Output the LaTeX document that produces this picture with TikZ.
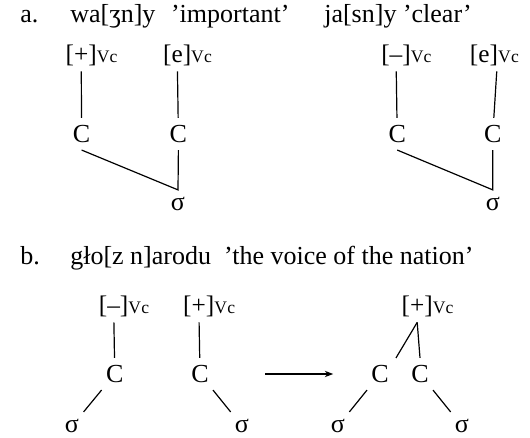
\documentclass[tikz,border=0pt]{standalone}
\usepackage{fontspec}
\setmainfont{Liberation Serif}
\usetikzlibrary{positioning,arrows.meta}
\newcommand{\vc}{\rlap{\fontsize{12.5}{13}\selectfont V\kern0.2pt c}}

\begin{document}
\begin{tikzpicture}[
    gloss/.style={anchor=base west, inner sep=0pt, font=\fontsize{18.5}{22}\selectfont},
    feat/.style={inner sep=4pt, font=\fontsize{18}{20}\selectfont},
    seg/.style={inner sep=5pt, font=\fontsize{18.5}{20}\selectfont},
    syl/.style={inner sep=5pt, font=\fontsize{18.5}{20}\selectfont},
    link/.style={line width=0.85pt},
    arrow/.style={-{Stealth[length=6pt,width=4.5pt]}, line width=0.9pt},
]
\useasboundingbox (0,0) rectangle (13.25,10.95);

% (a) headings
\node[gloss] (la) at (0.5, 10.375) {a.};
\node[gloss] (ga1) at (1.75, 10.375) {wa[ʒn]y\hspace{0.6em}'important'};
\node[gloss] (ga2) at (8.1, 10.375) {ja[sn]y\ 'clear'};

% (a) wa[zn]y
\node[feat] (f1) at (2.03, 9.575) {[+]\vc};
\node[feat] (f2) at (4.43, 9.575) {[e]\vc};
\node[seg] (c1) at (2.04, 7.6) {C};
\node[seg] (c2) at (4.46, 7.6) {C};
\node[syl] (s1) at (4.45, 5.85) {σ};

\draw[link] (f1) -- (c1);
\draw[link] (f2) -- (c2);
\draw[link] (c1.south) -- (s1.north) -- (c2.south);

% (a) ja[sn]y
\node[feat] (f3) at (9.9, 9.575) {[–]\vc};
\node[feat] (f4) at (12.1, 9.575) {[e]\vc};
\node[seg] (c3) at (9.93, 7.6) {C};
\node[seg] (c4) at (12.32, 7.6) {C};
\node[syl] (s2) at (12.32, 5.85) {σ};

\draw[link] (f3) -- (c3);
\draw[link] (f4.south east) ++(-0.18,0) -- (c4);
\draw[link] (c3.south) -- (s2.north) -- (c4.south);

% (b) heading
\node[gloss] (lb) at (0.5, 4.325) {b.};
\node[gloss] (gb) at (1.75, 4.325) {gło[z n]arodu\ \ 'the voice of the nation'};

% (b) before
\node[feat] (f5) at (2.84, 3.3) {[–]\vc};
\node[feat] (f6) at (4.97, 3.3) {[+]\vc};
\node[seg] (c5) at (2.87, 1.6) {C};
\node[seg] (c6) at (5.0, 1.6) {C};
\node[syl] (s3) at (1.8, 0.3) {σ};
\node[syl] (s4) at (6.05, 0.3) {σ};

\draw[link] (f5) -- (c5);
\draw[link] (f6) -- (c6);
\draw[link] (c5) -- (s3);
\draw[link] (c6) -- (s4);

% arrow
\coordinate (a1) at (6.63, 1.6);
\coordinate (a2) at (8.33, 1.6);
\draw[arrow] (a1) -- (a2);

% (b) after
\node[feat] (f7) at (10.43, 3.3) {[+]\vc};
\node[seg] (c7) at (9.5, 1.6) {C};
\node[seg] (c8) at (10.5, 1.6) {C};
\node[syl] (s5) at (8.45, 0.3) {σ};
\node[syl] (s6) at (11.55, 0.3) {σ};

\draw[link] (f7.south) -- (c7.north east);
\draw[link] (f7.south) -- (c8.north);
\draw[link] (c7) -- (s5);
\draw[link] (c8) -- (s6);

\end{tikzpicture}
\end{document}
